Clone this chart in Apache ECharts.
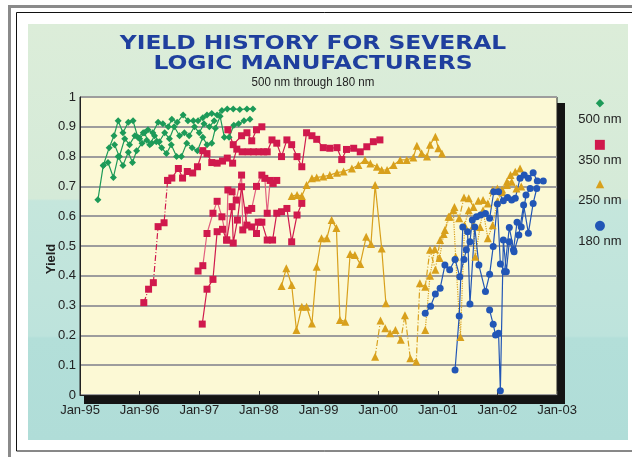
<!DOCTYPE html>
<html>
<head>
<meta charset="utf-8">
<script src="https://cdn.jsdelivr.net/npm/echarts@6/dist/echarts.min.js"></script>
<style>
  html, body { margin: 0; padding: 0; background: #fff; }
  #chart { width: 632px; height: 457px; }
</style>
</head>
<body>
<div id="chart"></div>
<script>
// axis labels
const yearLabels = ['Jan-95', 'Jan-96', 'Jan-97', 'Jan-98', 'Jan-99', 'Jan-00', 'Jan-01', 'Jan-02', 'Jan-03'];
const nodeNames = ['500 nm', '350 nm', '250 nm', '180 nm'];

// 500 nm (x = decimal year, y = yield)
const nm500a = [[1995.30, 0.655], [1995.39, 0.77], [1995.49, 0.83], [1995.57, 0.87], [1995.64, 0.92], [1995.72, 0.88], [1995.81, 0.915], [1995.89, 0.92], [1995.97, 0.865], [1996.06, 0.88], [1996.14, 0.89], [1996.22, 0.88], [1996.31, 0.915], [1996.39, 0.91], [1996.48, 0.90], [1996.54, 0.925], [1996.63, 0.915], [1996.73, 0.94], [1996.81, 0.92], [1996.90, 0.92], [1996.98, 0.92], [1997.06, 0.93], [1997.13, 0.94], [1997.21, 0.945], [1997.30, 0.94], [1997.38, 0.955], [1997.47, 0.96], [1997.57, 0.96], [1997.68, 0.958], [1997.80, 0.96], [1997.90, 0.96]];
const nm500b = [[1995.39, 0.77], [1995.47, 0.78], [1995.56, 0.73], [1995.64, 0.80], [1995.72, 0.77], [1995.81, 0.815], [1995.88, 0.78], [1995.95, 0.82], [1996.04, 0.845], [1996.12, 0.855], [1996.20, 0.845], [1996.28, 0.85], [1996.37, 0.83], [1996.45, 0.81], [1996.53, 0.84], [1996.62, 0.80], [1996.70, 0.80], [1996.79, 0.845], [1996.88, 0.83], [1996.97, 0.82], [1997.06, 0.865], [1997.13, 0.84], [1997.21, 0.845], [1997.27, 0.895], [1997.35, 0.935], [1997.42, 0.865], [1997.50, 0.865], [1997.58, 0.905], [1997.66, 0.91], [1997.75, 0.92], [1997.85, 0.925]];
const nm500c = [[1995.58, 0.84], [1995.66, 0.80], [1995.75, 0.86], [1995.83, 0.84], [1995.92, 0.87], [1996.00, 0.86], [1996.08, 0.88], [1996.17, 0.84], [1996.25, 0.87], [1996.33, 0.85], [1996.42, 0.88], [1996.50, 0.86], [1996.58, 0.90], [1996.67, 0.87], [1996.75, 0.88], [1996.83, 0.87], [1996.92, 0.90], [1997.00, 0.88], [1997.08, 0.91], [1997.17, 0.90], [1997.25, 0.92]];

// 350 nm
const nm350start = [[1996.07, 0.31], [1996.15, 0.355], [1996.23, 0.377], [1996.31, 0.565], [1996.41, 0.578], [1996.47, 0.72]];
const nm350a = [[1996.47, 0.72], [1996.54, 0.728], [1996.65, 0.76], [1996.72, 0.728], [1996.80, 0.75], [1996.89, 0.745], [1996.97, 0.766], [1997.06, 0.82], [1997.13, 0.81], [1997.21, 0.78], [1997.30, 0.778], [1997.39, 0.785], [1997.47, 0.795], [1997.56, 0.778], [1997.63, 0.825], [1997.72, 0.816], [1997.82, 0.816], [1997.91, 0.816], [1998.00, 0.816], [1998.08, 0.816], [1998.14, 0.816], [1998.22, 0.856], [1998.30, 0.845], [1998.38, 0.80], [1998.47, 0.856], [1998.55, 0.84], [1998.64, 0.80], [1998.72, 0.766], [1998.80, 0.88], [1998.89, 0.87], [1998.97, 0.858], [1999.08, 0.83], [1999.19, 0.828], [1999.31, 0.83], [1999.39, 0.79], [1999.47, 0.824], [1999.59, 0.828], [1999.70, 0.816], [1999.81, 0.833], [1999.92, 0.85], [2000.03, 0.856]];
const nm350b = [[1997.48, 0.89], [1997.57, 0.84], [1997.71, 0.87], [1997.80, 0.88], [1997.88, 0.853], [1997.96, 0.89], [1998.05, 0.90]];
const nm350c = [[1996.98, 0.416], [1997.06, 0.434], [1997.13, 0.542], [1997.23, 0.61], [1997.30, 0.65], [1997.38, 0.598], [1997.46, 0.52], [1997.48, 0.688], [1997.55, 0.682], [1997.62, 0.654], [1997.71, 0.738], [1997.73, 0.554], [1997.82, 0.62], [1997.88, 0.626], [1997.96, 0.70], [1998.05, 0.738], [1998.10, 0.727], [1998.14, 0.61], [1998.19, 0.72], [1998.24, 0.71], [1998.30, 0.72]];
const nm350d = [[1997.05, 0.238], [1997.13, 0.355], [1997.23, 0.388], [1997.30, 0.548], [1997.39, 0.556], [1997.46, 0.52], [1997.55, 0.632], [1997.57, 0.51], [1997.64, 0.587], [1997.71, 0.699], [1997.80, 0.57], [1997.88, 0.564], [1997.96, 0.542], [1997.99, 0.58], [1998.05, 0.58], [1998.14, 0.52], [1998.23, 0.52], [1998.30, 0.61], [1998.38, 0.615], [1998.47, 0.626], [1998.55, 0.514], [1998.64, 0.604], [1998.72, 0.643]];

// 250 nm
const nm250a = [[1998.55, 0.668], [1998.64, 0.671], [1998.72, 0.668], [1998.80, 0.705], [1998.89, 0.727], [1998.97, 0.73], [1999.08, 0.733], [1999.19, 0.738], [1999.31, 0.746], [1999.42, 0.75], [1999.56, 0.76], [1999.67, 0.772], [1999.78, 0.789], [1999.87, 0.777], [1999.98, 0.766], [2000.06, 0.755], [2000.15, 0.755], [2000.26, 0.772], [2000.37, 0.789], [2000.48, 0.789], [2000.59, 0.797], [2000.65, 0.836], [2000.73, 0.811], [2000.82, 0.80], [2000.87, 0.84], [2000.96, 0.867], [2001.01, 0.828], [2001.07, 0.81]];
const nm250b = [[1998.38, 0.366], [1998.46, 0.425], [1998.55, 0.369], [1998.63, 0.218], [1998.72, 0.296], [1998.80, 0.296], [1998.89, 0.24], [1998.97, 0.43], [1999.05, 0.526], [1999.14, 0.526], [1999.22, 0.587], [1999.30, 0.56], [1999.36, 0.252], [1999.45, 0.246], [1999.53, 0.473], [1999.61, 0.47], [1999.70, 0.44], [1999.80, 0.531], [1999.88, 0.507], [1999.95, 0.705], [2000.06, 0.492], [2000.13, 0.308]];
const nm250c = [[1999.95, 0.128], [2000.04, 0.25], [2000.12, 0.224], [2000.20, 0.207], [2000.29, 0.218], [2000.38, 0.185], [2000.45, 0.268], [2000.54, 0.123], [2000.64, 0.112], [2000.70, 0.375], [2000.79, 0.363], [2000.87, 0.487], [2000.96, 0.42], [2001.04, 0.52], [2001.12, 0.554], [2001.20, 0.598], [2001.28, 0.631], [2001.36, 0.593], [2001.44, 0.663], [2001.52, 0.66], [2001.60, 0.631], [2001.68, 0.652], [2001.76, 0.654], [2001.84, 0.643], [2001.92, 0.688], [2002.00, 0.693], [2002.08, 0.69], [2002.16, 0.705], [2002.22, 0.738], [2002.30, 0.749], [2002.38, 0.76]];
const nm250d = [[2000.79, 0.218], [2000.87, 0.40], [2000.95, 0.49], [2001.03, 0.46], [2001.10, 0.54], [2001.18, 0.598], [2001.26, 0.62], [2001.30, 0.464], [2001.38, 0.195], [2001.45, 0.57], [2001.52, 0.62], [2001.60, 0.57], [2001.63, 0.464], [2001.71, 0.564], [2001.76, 0.62], [2001.84, 0.526], [2001.92, 0.57], [2002.00, 0.65], [2002.08, 0.68], [2002.16, 0.716], [2002.24, 0.716], [2002.32, 0.693], [2002.40, 0.70]];

// 180 nm
const nm180a = [[2000.79, 0.274], [2000.88, 0.298], [2000.96, 0.339], [2001.04, 0.358], [2001.12, 0.436], [2001.20, 0.42], [2001.29, 0.455], [2001.37, 0.397], [2001.44, 0.455], [2001.48, 0.487], [2001.54, 0.514], [2001.58, 0.587], [2001.65, 0.598], [2001.72, 0.604], [2001.80, 0.609], [2001.87, 0.593], [2001.94, 0.682], [2002.02, 0.682], [2002.10, 0.652], [2002.17, 0.663], [2002.24, 0.654], [2002.30, 0.66], [2002.38, 0.727], [2002.45, 0.738], [2002.52, 0.727], [2002.60, 0.746], [2002.67, 0.718], [2002.77, 0.718]];
const nm180b = [[2001.29, 0.084], [2001.36, 0.265], [2001.42, 0.564], [2001.50, 0.548], [2001.54, 0.305], [2001.62, 0.564], [2001.69, 0.436], [2001.80, 0.347], [2001.87, 0.405], [2001.93, 0.498], [2002.00, 0.641], [2002.05, 0.44], [2002.12, 0.414], [2002.20, 0.562], [2002.28, 0.481], [2002.36, 0.537], [2002.44, 0.638], [2002.52, 0.543], [2002.60, 0.643], [2002.66, 0.693]];
const nm180c = [[2001.87, 0.285], [2001.93, 0.237], [2001.97, 0.201], [2002.02, 0.207], [2002.05, 0.014], [2002.10, 0.52], [2002.15, 0.414], [2002.20, 0.514], [2002.27, 0.487], [2002.33, 0.58], [2002.40, 0.564], [2002.48, 0.671], [2002.55, 0.693]];

const GREEN = '#1d9a58';
const RED = '#d0194d';
const GOLD = '#d8a01c';
const BLUE = '#2256b6';
const SANS = '"Liberation Sans", Arial, sans-serif';

function lineSeries(name, data, color, symbol, lineType, lineColor) {
    return {
        name,
        type: 'line',
        data,
        symbol,
        symbolSize: symbol === 'triangle' ? 8 : 7,
        itemStyle: { color },
        lineStyle: { color: lineColor || color, width: 1.2, type: lineType || 'solid' },
        emphasis: { disabled: true },
        animation: false,
        z: 3,
    };
}

const DASH_DOT = [6, 2, 1, 2];

const chart = echarts.init(document.getElementById('chart'), null, { renderer: 'canvas' });

const option = {
    backgroundColor: '#ffffff',
    animation: false,
    graphic: [
        {
            type: 'rect', z: -10, silent: true,
            shape: { x: 9.5, y: 6.5, width: 700, height: 700 },
            style: { fill: 'none', stroke: '#8a8a8a', lineWidth: 3 },
        },
        {
            type: 'rect', z: -9, silent: true,
            shape: { x: 16.5, y: 12.5, width: 700, height: 438.5 },
            style: { fill: 'none', stroke: '#111', lineWidth: 1 },
        },
        {
            type: 'rect', z: -8, silent: true,
            shape: { x: 28, y: 24, width: 600, height: 416 },
            style: {
                fill: {
                    type: 'linear', x: 0, y: 0, x2: 0, y2: 1,
                    colorStops: [
                        { offset: 0, color: '#dcedd9' },
                        { offset: 0.42, color: '#d4ead8' },
                        { offset: 0.425, color: '#c5e6dc' },
                        { offset: 0.75, color: '#bde3dc' },
                        { offset: 0.755, color: '#b3dfd9' },
                        { offset: 1, color: '#b0ddd8' },
                    ],
                },
            },
        },
        {
            type: 'rect', z: -7, silent: true,
            shape: { x: 84, y: 103, width: 481, height: 301 },
            style: { fill: '#141414' },
        },
        {
            type: 'text', x: 313, y: 44, scaleX: 1.23, silent: true,
            style: {
                text: 'YIELD HISTORY FOR SEVERAL',
                font: 'bold 19px "DejaVu Sans"',
                fill: '#1f3f9e',
                align: 'center', verticalAlign: 'middle',
                textAlign: 'center', textVerticalAlign: 'middle',
            },
        },
        {
            type: 'text', x: 313, y: 64, scaleX: 1.23, silent: true,
            style: {
                text: 'LOGIC MANUFACTURERS',
                font: 'bold 19px "DejaVu Sans"',
                fill: '#1f3f9e',
                align: 'center', verticalAlign: 'middle',
                textAlign: 'center', textVerticalAlign: 'middle',
            },
        },
        {
            type: 'text', x: 313, y: 82, scaleX: 0.89, silent: true,
            style: {
                text: '500 nm through 180 nm',
                font: '13px ' + SANS,
                fill: '#222',
                align: 'center', verticalAlign: 'middle',
                textAlign: 'center', textVerticalAlign: 'middle',
            },
        },
    ],
    grid: {
        left: 80, right: 75, top: 97, bottom: 62,
        show: true,
        backgroundColor: '#fcf9d5',
        borderColor: '#222',
        borderWidth: 1,
    },
    legend: {
        data: nodeNames,
        orient: 'vertical',
        left: 567,
        top: 93,
        itemGap: 12,
        itemWidth: 0,
        itemHeight: 0,
        selectedMode: false,
        formatter: (name) => {
            const keys = { '500 nm': 'g', '350 nm': 'r', '250 nm': 'y', '180 nm': 'b' };
            const glyphs = { g: '\u25C6', r: '\u25A0', y: '\u25B2', b: '\u25CF' };
            const k = keys[name];
            return `{${k}|${glyphs[k]}}\n{t|${name}}`;
        },
        textStyle: {
            rich: {
                g: { color: GREEN, fontSize: 11, width: 44, align: 'center', lineHeight: 16, fontFamily: '"DejaVu Sans"' },
                r: { color: RED, fontSize: 13, width: 44, align: 'center', lineHeight: 16, fontFamily: '"DejaVu Sans"' },
                y: { color: GOLD, fontSize: 11, width: 44, align: 'center', lineHeight: 16, fontFamily: '"DejaVu Sans"' },
                b: { color: BLUE, fontSize: 13, width: 44, align: 'center', lineHeight: 16, fontFamily: '"DejaVu Sans"' },
                t: { color: '#222', fontSize: 13, width: 44, align: 'center', lineHeight: 16, fontFamily: SANS },
            },
        },
    },
    xAxis: {
        type: 'value',
        min: 1995,
        max: 2003,
        interval: 1,
        axisLine: { show: true, lineStyle: { color: '#222', width: 1 } },
        axisTick: { show: true, inside: true, length: 4, lineStyle: { color: '#333' } },
        splitLine: { show: false },
        axisLabel: {
            formatter: (v) => yearLabels[Math.round(v - 1995)],
            color: '#222',
            fontSize: 13,
            fontFamily: SANS,
            margin: 9,
        },
    },
    yAxis: {
        type: 'value',
        min: 0,
        max: 1,
        interval: 0.1,
        name: 'Yield',
        nameLocation: 'middle',
        nameGap: 22,
        nameMoveOverlap: false,
        nameTextStyle: { color: '#222', fontSize: 13, fontWeight: 'bold', fontFamily: SANS, padding: [0, 26, 0, 0] },
        axisLine: { show: true, lineStyle: { color: '#222', width: 1 } },
        axisTick: { show: false },
        splitLine: { show: true, lineStyle: { color: '#9d9d9d', width: 2 } },
        axisLabel: {
            formatter: (v) => (v === 0 ? '0' : v === 1 ? '1' : v.toFixed(1)),
            color: '#222',
            fontSize: 13,
            fontFamily: SANS,
            margin: 4,
        },
    },
    series: [
        lineSeries('500 nm', nm500c, GREEN, 'diamond'),
        lineSeries('500 nm', nm500b, GREEN, 'diamond'),
        lineSeries('500 nm', nm500a, GREEN, 'diamond'),
        lineSeries('350 nm', nm350start, RED, 'rect', DASH_DOT),
        lineSeries('350 nm', nm350a, RED, 'rect'),
        lineSeries('350 nm', nm350b, RED, 'rect'),
        lineSeries('350 nm', nm350c, RED, 'rect', 'solid', '#e2607f'),
        lineSeries('350 nm', nm350d, RED, 'rect'),
        lineSeries('250 nm', nm250a, GOLD, 'triangle'),
        lineSeries('250 nm', nm250b, GOLD, 'triangle'),
        lineSeries('250 nm', nm250c, GOLD, 'triangle', DASH_DOT),
        lineSeries('250 nm', nm250d, GOLD, 'triangle', 'dotted'),
        lineSeries('180 nm', nm180a, BLUE, 'circle'),
        lineSeries('180 nm', nm180b, BLUE, 'circle'),
        lineSeries('180 nm', nm180c, BLUE, 'circle'),
    ],
};

chart.setOption(option);
</script>
</body>
</html>
